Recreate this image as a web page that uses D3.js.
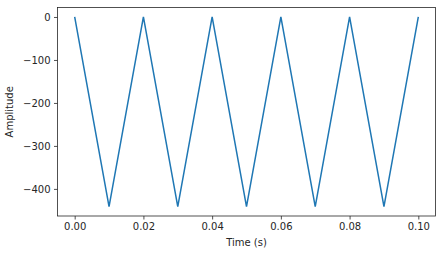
<!DOCTYPE html>
<html>
<head>
<meta charset="utf-8">
<script src="https://cdn.jsdelivr.net/npm/d3@7"></script>
<style>
  body { margin: 0; background: #fff; }
  text { font-family: "DejaVu Sans", sans-serif; }
</style>
</head>
<body>
<div id="chart"></div>
<script>
// data
var times = [0.00, 0.01, 0.02, 0.03, 0.04, 0.05, 0.06, 0.07, 0.08, 0.09, 0.10];
var amplitude = [0, -441, 0, -441, 0, -441, 0, -441, 0, -441, 0];
var xTicks = [0.00, 0.02, 0.04, 0.06, 0.08, 0.10];
var yTicks = [0, -100, -200, -300, -400];

var W = 442, H = 255;
var margin = {top: 7.5, right: 6.5, bottom: 39, left: 57.5},
    width = W - margin.left - margin.right,
    height = H - margin.top - margin.bottom;

var svg = d3.select("#chart")
  .append("svg")
    .attr("width", W)
    .attr("height", H)
  .append("g")
    .attr("transform", "translate(" + margin.left + "," + margin.top + ")");

// matplotlib-like 5% margins
var xPad = 0.1 * 0.05, yPad = 441 * 0.05;
var x = d3.scaleLinear().domain([0 - xPad, 0.1 + xPad]).range([0, width]);
var y = d3.scaleLinear().domain([-441 - yPad, 0 + yPad]).range([height, 0]);

// X axis
var xAxis = svg.append("g")
  .attr("transform", "translate(0," + height + ")")
  .call(d3.axisBottom(x).tickValues(xTicks).tickFormat(d3.format(".2f")).tickSizeOuter(0).tickSize(3.5).tickPadding(3.5));

// Y axis
var yAxis = svg.append("g")
  .call(d3.axisLeft(y).tickValues(yTicks).tickFormat(function(d){ return d < 0 ? "\u2212" + Math.abs(d) : d; }).tickSizeOuter(0).tickSize(3.5).tickPadding(3.5));

[xAxis, yAxis].forEach(function(a){
  a.selectAll("text").style("font-size", "10px").attr("fill", "#262626");
  a.selectAll("line").attr("stroke", "#262626").attr("stroke-width", 0.8);
  a.select(".domain").remove();
});

// frame
svg.append("rect")
  .attr("width", width)
  .attr("height", height)
  .attr("fill", "none")
  .attr("stroke", "#262626")
  .attr("stroke-width", 0.8);

// line
var line = d3.line()
  .x(function(d, i){ return x(times[i]); })
  .y(function(d){ return y(d); });

svg.append("path")
  .datum(amplitude)
  .attr("d", line)
  .attr("fill", "none")
  .attr("stroke", "#1f77b4")
  .attr("stroke-width", 1.5);

// labels
svg.append("text")
  .attr("x", width / 2)
  .attr("y", height + 30)
  .attr("text-anchor", "middle")
  .style("font-size", "10px")
  .attr("fill", "#262626")
  .text("Time (s)");

svg.append("text")
  .attr("transform", "rotate(-90)")
  .attr("x", -height / 2)
  .attr("y", -margin.left + 13)
  .attr("text-anchor", "middle")
  .style("font-size", "10px")
  .attr("fill", "#262626")
  .text("Amplitude");
</script>
</body>
</html>
